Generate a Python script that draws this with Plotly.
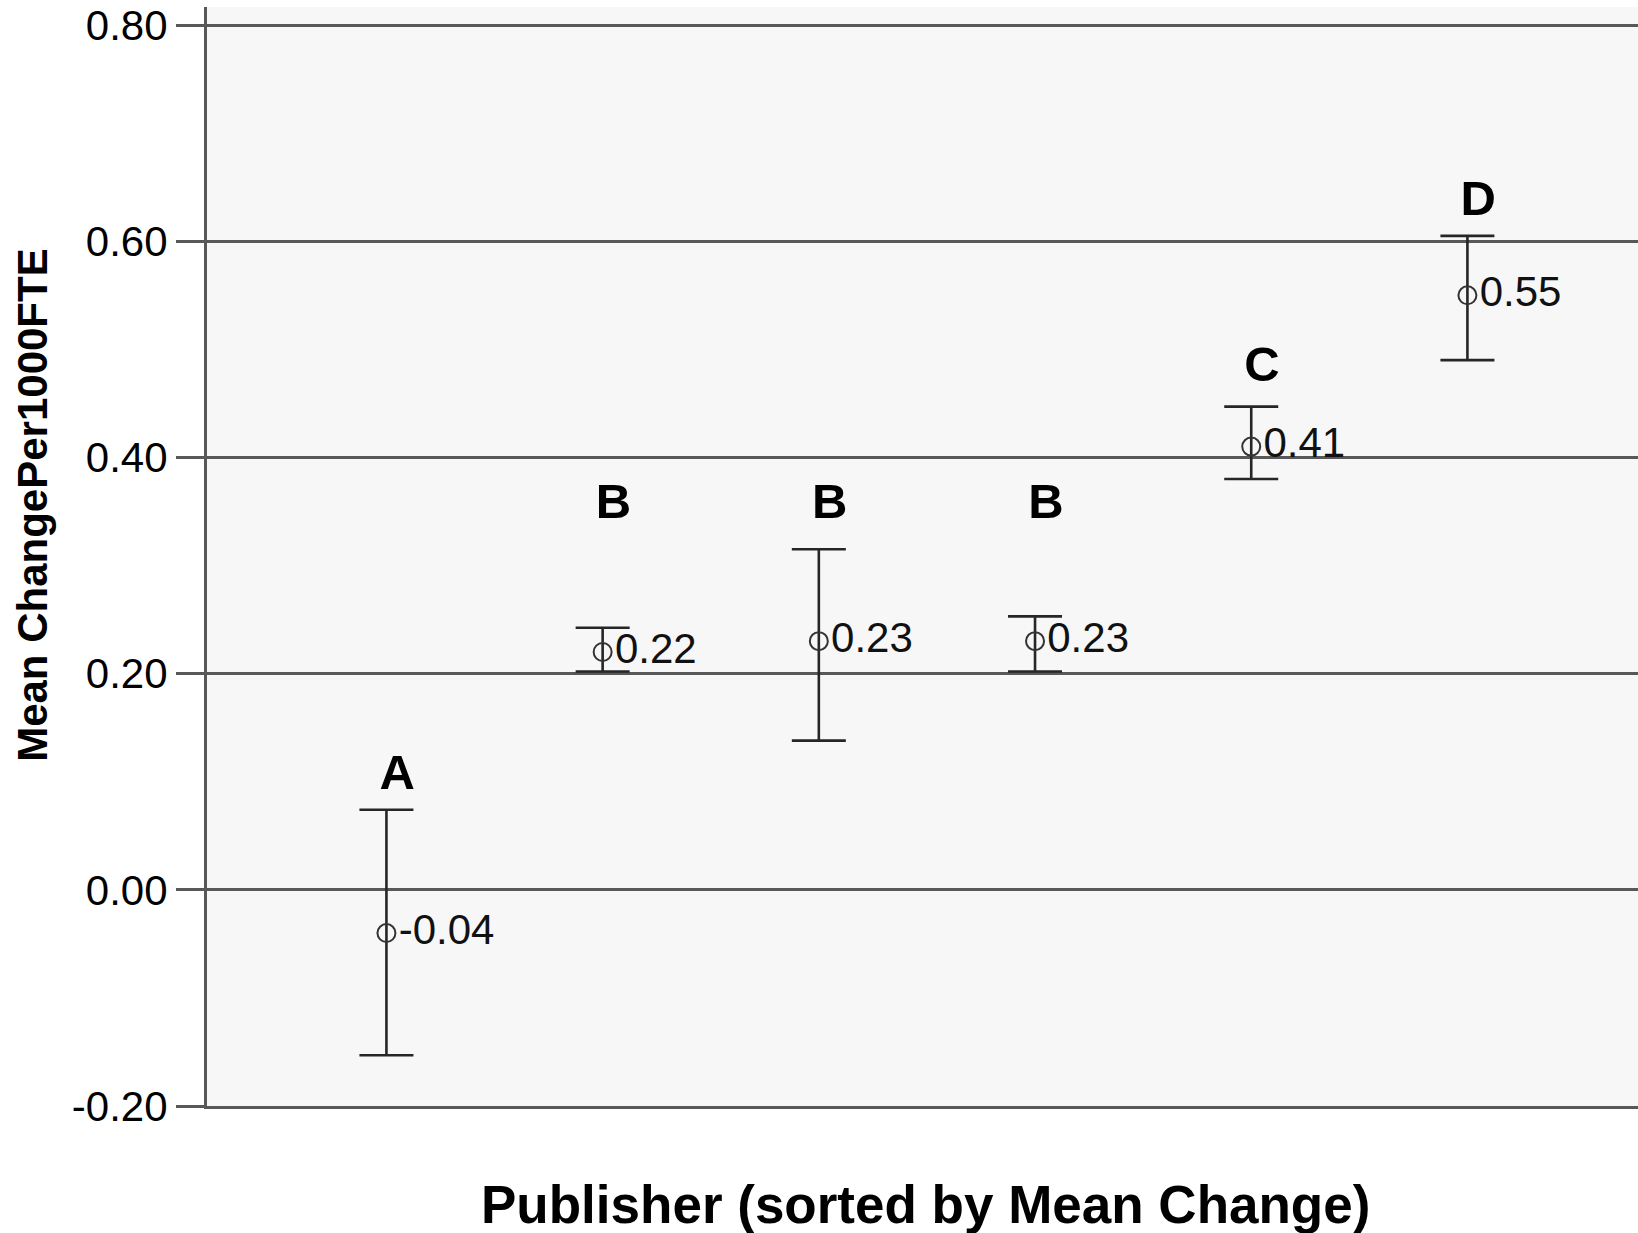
import plotly.graph_objects as go

# Publishers sorted by mean change, with 95% CI bounds and homogeneous-subset letters
publisher_pos = [1, 2, 3, 4, 5, 6]
mean_change = [-0.04, 0.22, 0.23, 0.23, 0.41, 0.55]
ci_upper = [0.074, 0.2425, 0.315, 0.253, 0.447, 0.605]
ci_lower = [-0.153, 0.202, 0.138, 0.202, 0.380, 0.490]
group_letters = ["A", "B", "B", "B", "C", "D"]
group_letter_y = [0.105, 0.355, 0.355, 0.355, 0.482, 0.636]

y_ticks = [-0.20, 0.00, 0.20, 0.40, 0.60, 0.80]
y_tick_text = [f"{v:.2f}" for v in y_ticks]

FONT = "Liberation Sans, Arial, sans-serif"
GRID = "#585858"

err_plus = [u - m for u, m in zip(ci_upper, mean_change)]
err_minus = [m - l for m, l in zip(mean_change, ci_lower)]

fig = go.Figure()

fig.add_trace(go.Scatter(
    x=publisher_pos,
    y=mean_change,
    mode="markers+text",
    text=[f"{v:.2f}" for v in mean_change],
    textposition="middle right",
    textfont=dict(family=FONT, size=42, color="#111111"),
    marker=dict(symbol="circle-open", size=18, color="#333333",
                line=dict(width=2, color="#333333")),
    error_y=dict(type="data", symmetric=False, array=err_plus,
                 arrayminus=err_minus, color="#262626", thickness=2.6,
                 width=27),
    cliponaxis=False,
    showlegend=False,
    hoverinfo="skip",
))

# Group letters above each publisher
fig.add_trace(go.Scatter(
    x=[p + 0.05 for p in publisher_pos],
    y=group_letter_y,
    mode="text",
    text=group_letters,
    textposition="middle center",
    textfont=dict(family=FONT, size=49, color="#000000", weight="bold"),
    showlegend=False,
    hoverinfo="skip",
))

fig.update_layout(
    width=1638,
    height=1233,
    margin=dict(l=207, r=0, t=7, b=127),
    paper_bgcolor="white",
    plot_bgcolor="#f7f7f7",
    font=dict(family=FONT, color="#000000"),
    xaxis=dict(
        range=[0.170, 6.789],
        showgrid=False,
        zeroline=False,
        showticklabels=False,
        ticks="",
        showline=True,
        linecolor=GRID,
        linewidth=3,
    ),
    yaxis=dict(
        range=[-0.2, 0.8167],
        tickvals=y_ticks,
        ticktext=y_tick_text,
        tickfont=dict(family=FONT, size=42, color="#000000"),
        ticks="outside",
        ticklen=28,
        tickwidth=3,
        tickcolor=GRID,
        showgrid=True,
        gridcolor=GRID,
        gridwidth=3,
        zeroline=False,
        showline=True,
        linecolor=GRID,
        linewidth=3,
    ),
    annotations=[
        dict(text="<b>Mean ChangePer1000FTE</b>", xref="paper", yref="paper",
             x=-0.1216, y=0.547, xanchor="center", yanchor="middle",
             textangle=-90, showarrow=False,
             font=dict(family=FONT, size=42, color="#000000")),
        dict(text="<b>Publisher (sorted by Mean Change)</b>", xref="paper",
             yref="paper", x=0.5024, y=-0.0892, xanchor="center",
             yanchor="middle", showarrow=False,
             font=dict(family=FONT, size=53, color="#000000")),
    ],
)

fig.write_html("out.html")
